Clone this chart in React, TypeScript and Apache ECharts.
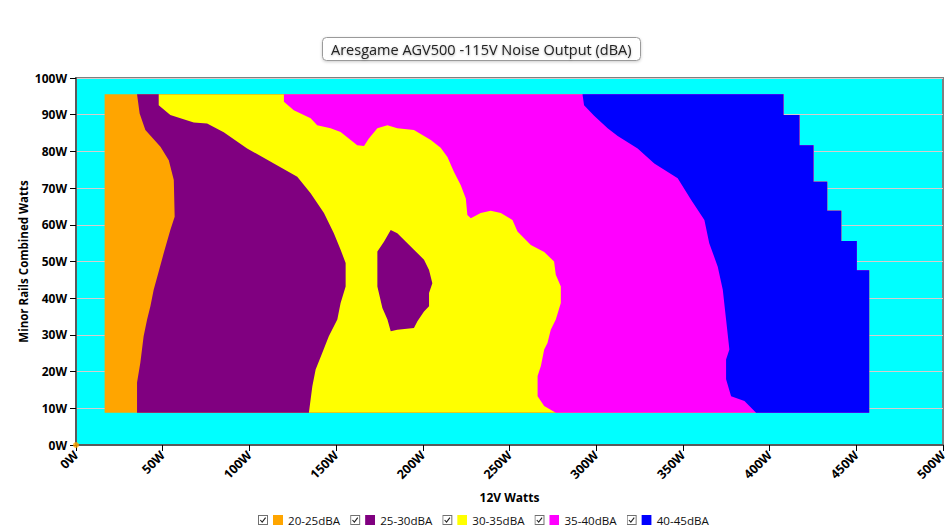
import React, { useEffect, useRef } from "react";
import * as echarts from "echarts";

// ---- Data ----
const titleText = "Aresgame AGV500 -115V Noise Output (dBA)";
const xAxisName = "12V Watts";
const yAxisName = "Minor Rails Combined Watts";
const xTicks = [0, 50, 100, 150, 200, 250, 300, 350, 400, 450, 500];
const yTicks = [0, 10, 20, 30, 40, 50, 60, 70, 80, 90, 100];
const bandNames = ["20-25dBA", "25-30dBA", "30-35dBA", "35-40dBA", "40-45dBA"];

// Boundaries of the noise bands, [12V W, minor rails W], listed top -> bottom
const leftEdge = [
  [16.5, 95.6],
  [16.5, 8.8],
];
const edge20to25 = [
  [35.2, 95.6], [36.7, 90.3], [40.0, 85.8], [48.7, 81.3], [53.5, 77.6], [56.4, 72.2],
  [56.9, 62.2], [54.4, 58.6], [50.6, 52.3], [47.7, 47.3], [44.8, 42.3], [42.9, 37.8],
  [41.0, 34.2], [39.0, 29.6], [37.1, 22.4], [35.2, 17.0], [35.2, 8.8],
];
const edge25to30 = [
  [47.7, 95.6], [47.7, 92.6], [54.4, 89.9], [67.9, 87.9], [75.6, 87.6], [85.2, 85.2],
  [98.7, 80.8], [114.1, 76.7], [127.6, 73.1], [135.3, 68.6], [143.0, 63.2], [148.7, 57.7],
  [152.6, 53.2], [155.5, 49.6], [155.5, 43.2], [152.6, 38.7], [150.7, 34.2], [145.8, 29.6],
  [142.0, 25.1], [138.2, 20.6], [136.3, 16.0], [134.3, 8.8],
];
const edge30to35 = [
  [119.9, 95.6], [119.9, 93.5], [125.6, 91.2], [135.3, 89.0], [139.1, 87.1], [146.8, 86.3],
  [152.6, 85.3], [158.4, 83.1], [162.2, 81.7], [166.1, 81.5], [168.9, 83.5], [173.8, 86.3],
  [179.6, 87.1], [185.3, 86.3], [194.9, 85.8], [204.6, 83.1], [210.3, 81.0], [214.2, 78.5],
  [218.0, 74.4], [221.9, 70.8], [224.8, 67.2], [225.7, 62.7], [227.7, 61.8], [233.4, 63.2],
  [239.2, 63.8], [245.0, 63.2], [251.7, 61.3], [254.6, 58.2], [262.3, 54.5], [270.0, 52.6],
  [275.7, 50.0], [276.7, 46.4], [279.6, 43.2], [279.6, 38.7], [276.7, 34.2], [273.8, 31.4],
  [271.9, 27.8], [270.0, 26.0], [268.1, 21.5], [266.2, 18.8], [266.2, 13.3], [270.0, 10.6],
  [276.7, 8.8],
];
const edge35to40 = [
  [292.1, 95.6], [293.0, 92.6], [298.8, 89.7], [306.6, 86.3], [312.4, 84.2], [323.9, 80.8],
  [333.5, 76.7], [347.0, 72.7], [354.7, 66.8], [362.4, 61.3], [365.2, 55.0], [370.1, 48.6],
  [373.0, 42.3], [374.9, 34.2], [376.8, 26.0], [374.9, 23.3], [374.9, 17.9], [377.8, 13.3],
  [385.5, 12.0], [392.2, 8.8],
];
const edge40to45 = [
  [408.0, 95.6], [408.0, 89.9], [417.2, 89.9], [417.2, 81.7], [425.3, 81.7], [425.3, 71.7],
  [433.2, 71.7], [433.2, 63.8], [441.3, 63.8], [441.3, 55.6], [450.3, 55.6], [450.3, 47.6],
  [457.4, 47.6], [457.4, 8.8],
];
// Island of 25-30dBA inside the 30-35dBA band
const island25to30 = [
  [181.5, 58.6], [177.6, 55.4], [173.8, 52.7], [173.8, 43.2], [176.7, 37.3], [179.6, 34.2],
  [181.5, 31.0], [185.3, 31.4], [194.9, 31.9], [196.9, 33.7], [200.7, 36.4], [203.6, 37.8],
  [203.6, 41.4], [205.5, 44.1], [203.6, 47.7], [200.7, 50.5], [194.9, 53.2], [185.3, 57.7],
];
const originSpot = [[0, 0]];

// ---- Styles ----
const bandColors = ["#FFA500", "#800080", "#FFFF00", "#FF00FF", "#0000FF"];
const FONT = "'Open Sans', 'Noto Sans', sans-serif";

const legendIcon = (color: string) =>
  "image://data:image/svg+xml;charset=utf-8," +
  encodeURIComponent(
    `<svg xmlns="http://www.w3.org/2000/svg" width="25" height="10" viewBox="0 0 25 10">` +
      `<rect x="0.5" y="0.5" width="9" height="9" fill="#ffffff" stroke="#707070" stroke-width="1"/>` +
      `<polyline points="2.3,5 4.2,7.2 7.6,2.6" fill="none" stroke="#222222" stroke-width="1.1"/>` +
      `<rect x="15" y="0" width="10" height="10" fill="${color}"/>` +
      `</svg>`
  );

export default function App() {
  const ref = useRef<HTMLDivElement>(null);

  useEffect(() => {
    if (!ref.current) return;
    const chart = echarts.init(ref.current, undefined, { renderer: "svg" });

    const leftBounds = [leftEdge, edge20to25, edge25to30, edge30to35, edge35to40];
    const bandSeries = bandNames.map((name, i) => {
      const left = leftBounds[i];
      const poly = [...left, ...edge40to45.slice().reverse()];
      return {
        type: "custom",
        name,
        coordinateSystem: "cartesian2d",
        data: [[0, 0]],
        z: 2,
        renderItem: (_params: any, api: any) => ({
          type: "polygon",
          shape: { points: poly.map((p) => api.coord(p)) },
          style: { fill: bandColors[i], stroke: null },
        }),
      };
    });

    const islandSeries = {
      type: "custom",
      name: bandNames[1],
      coordinateSystem: "cartesian2d",
      data: [[0, 0]],
      z: 3,
      renderItem: (_params: any, api: any) => ({
        type: "polygon",
        shape: { points: island25to30.map((p) => api.coord(p)) },
        style: { fill: bandColors[1], stroke: null },
      }),
    };

    const originSeries = {
      type: "scatter",
      name: bandNames[0],
      data: originSpot,
      symbol: "circle",
      symbolSize: 6,
      clip: true,
      itemStyle: { color: bandColors[0] },
      z: 3,
      silent: true,
    };

    const option: any = {
      animation: false,
      backgroundColor: "#ffffff",
      title: {
        text: titleText,
        left: 322,
        top: 37,
        padding: [5, 9, 4, 9],
        borderColor: "#9a9a9a",
        borderWidth: 1,
        borderRadius: 4,
        backgroundColor: "#ffffff",
        shadowBlur: 3,
        shadowColor: "rgba(0,0,0,0.2)",
        shadowOffsetY: 1,
        textStyle: {
          fontFamily: FONT,
          fontSize: 14.5,
          fontWeight: "normal",
          color: "#222",
          textShadowBlur: 2,
          textShadowColor: "rgba(0,0,0,0.3)",
          textShadowOffsetY: 1,
        },
      },
      legend: {
        left: 258,
        top: 514,
        padding: 0,
        itemWidth: 25,
        itemHeight: 10,
        itemGap: 10,
        selectedMode: true,
        textStyle: { fontFamily: FONT, fontSize: 11.6, color: "#111" },
        data: bandNames.map((n, i) => ({ name: n, icon: legendIcon(bandColors[i]) })),
      },
      grid: {
        left: 76,
        right: 7,
        top: 78,
        bottom: 85,
        show: true,
        backgroundColor: "#00FFFF",
        borderColor: "#808080",
        borderWidth: 2,
      },
      xAxis: {
        type: "value",
        min: xTicks[0],
        max: xTicks[xTicks.length - 1],
        interval: 50,
        name: xAxisName,
        nameLocation: "middle",
        nameGap: 46,
        nameMoveOverlap: false,
        nameTextStyle: { fontFamily: FONT, fontSize: 12, fontWeight: "bold", color: "#000" },
        axisLine: { show: true, lineStyle: { color: "#5a5a5a", width: 2 } },
        axisTick: { show: true, length: 6, lineStyle: { color: "#000" } },
        axisLabel: {
          rotate: 45,
          margin: 8,
          fontFamily: FONT,
          fontSize: 12.5,
          fontWeight: "bold",
          color: "#000",
          formatter: (v: number) => `${v}W`,
        },
        splitLine: { show: false },
      },
      yAxis: {
        type: "value",
        min: yTicks[0],
        max: yTicks[yTicks.length - 1],
        interval: 10,
        name: yAxisName,
        nameLocation: "middle",
        nameGap: 47,
        nameMoveOverlap: false,
        nameTextStyle: { fontFamily: FONT, fontSize: 11.5, fontWeight: "bold", color: "#000" },
        axisLine: { show: true, lineStyle: { color: "#5a5a5a", width: 2 } },
        axisTick: { show: true, length: 6, lineStyle: { color: "#000" } },
        axisLabel: {
          margin: 9,
          fontFamily: FONT,
          fontSize: 12,
          fontWeight: "bold",
          color: "#000",
          formatter: (v: number) => `${v}W`,
        },
        splitLine: { show: true, lineStyle: { color: "#d6cccc", width: 1 } },
      },
      series: [...bandSeries, islandSeries, originSeries],
    };

    chart.setOption(option);
    return () => chart.dispose();
  }, []);

  return (
    <div
      ref={ref}
      style={{ position: "fixed", left: 0, top: 0, width: 950, height: 530 }}
    />
  );
}
